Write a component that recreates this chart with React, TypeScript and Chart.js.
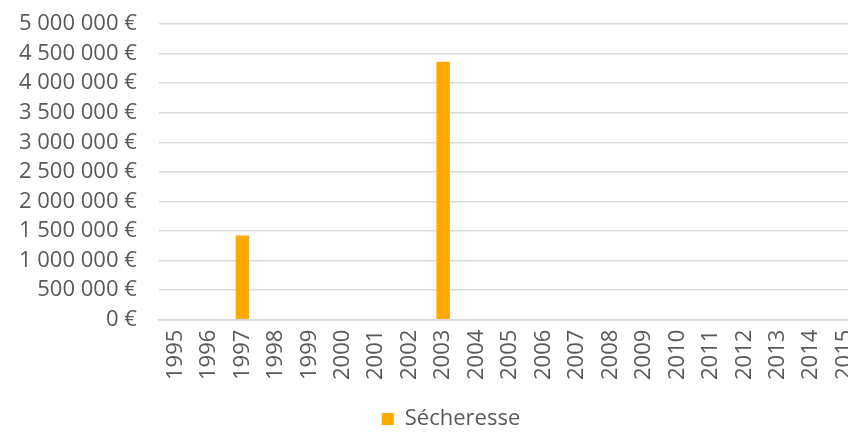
import React, { useEffect, useRef } from "react";
import { Chart, registerables } from "chart.js";

Chart.register(...registerables);

const years: string[] = [
  "1995", "1996", "1997", "1998", "1999", "2000", "2001", "2002", "2003", "2004", "2005",
  "2006", "2007", "2008", "2009", "2010", "2011", "2012", "2013", "2014", "2015",
];
const secheresse: number[] = [
  0, 0, 1424000, 0, 0, 0, 0, 0, 4360000, 0, 0,
  0, 0, 0, 0, 0, 0, 0, 0, 0, 0,
];
const seriesName = "Sécheresse";
const yMax = 5000000;
const yStep = 500000;

const FONT = "'Open Sans', sans-serif";
const TEXT = "#595959";

function fmt(v: number): string {
  return String(Math.round(v)).replace(/\B(?=(\d{3})+(?!\d))/g, " ") + " €";
}

export default function App() {
  const ref = useRef<HTMLCanvasElement | null>(null);
  useEffect(() => {
    if (!ref.current) return;
    const placeLegend = {
      id: "placeLegend",
      afterLayout(chart: any) {
        const lg = chart.legend;
        if (lg) {
          lg.left += 5;
          lg.right += 5;
          const h = lg.bottom - lg.top;
          lg.top = 422 - h / 2;
          lg.bottom = lg.top + h;
        }
      },
    };
    const chart = new Chart(ref.current, {
      type: "bar",
      data: {
        labels: years,
        datasets: [
          {
            label: seriesName,
            data: secheresse,
            backgroundColor: "#FFA900",
            borderWidth: 0,
            categoryPercentage: 1,
            barPercentage: 0.4,
          },
        ],
      },
      options: {
        animation: false,
        responsive: false,
        maintainAspectRatio: false,
        layout: { padding: { top: 24, left: 19, right: 0, bottom: 22 } },
        plugins: {
          tooltip: { enabled: false },
          legend: {
            position: "bottom",
            labels: {
              boxWidth: 12,
              boxHeight: 12,
              padding: 4,
              color: TEXT,
              font: { family: FONT, size: 22 },
            },
          },
        },
        scales: {
          x: {
            grid: { display: false },
            border: { display: true, color: "#D9D9D9", width: 1.5 },
            ticks: {
              color: TEXT,
              font: { family: FONT, size: 22 },
              minRotation: 90,
              maxRotation: 90,
              autoSkip: false,
              padding: 2,
            },
          },
          y: {
            min: 0,
            max: yMax,
            grid: { color: "#D9D9D9", lineWidth: 1.5, drawTicks: true, tickLength: 22, tickColor: "rgba(0,0,0,0)" },
            border: { display: false },
            ticks: {
              stepSize: yStep,
              autoSkip: false,
              color: TEXT,
              padding: 0,
              font: { family: FONT, size: 22 },
              callback: (v: any) => fmt(Number(v)),
            },
          },
        },
      },
      plugins: [placeLegend],
    });
    return () => chart.destroy();
  }, []);
  return (
    <div style={{ position: "fixed", left: 0, top: 0, width: 848, height: 432, overflow: "hidden", background: "#fff" }}>
      <canvas ref={ref} width={873} height={440} style={{ display: "block" }} />
    </div>
  );
}
